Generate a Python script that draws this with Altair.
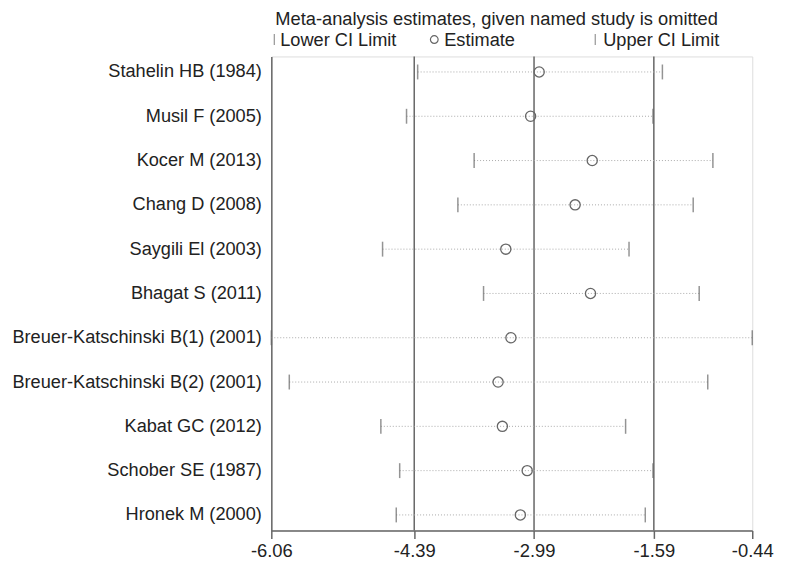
import altair as alt
import pandas as pd

studies = [
    "Stahelin HB (1984)",
    "Musil F (2005)",
    "Kocer M (2013)",
    "Chang D (2008)",
    "Saygili El (2003)",
    "Bhagat S (2011)",
    "Breuer-Katschinski B(1) (2001)",
    "Breuer-Katschinski B(2) (2001)",
    "Kabat GC (2012)",
    "Schober SE (1987)",
    "Hronek M (2000)",
]
estimate = [-2.93, -3.03, -2.31, -2.51, -3.32, -2.33, -3.26, -3.41, -3.36, -3.07, -3.15]
lower = [-4.35, -4.48, -3.69, -3.88, -4.76, -3.58, -6.06, -5.85, -4.78, -4.56, -4.60]
upper = [-1.49, -1.60, -0.90, -1.13, -1.88, -1.06, -0.44, -0.96, -1.92, -1.60, -1.69]

overall = [-4.39, -2.99, -1.59]
tick_values = [-6.06, -4.39, -2.99, -1.59, -0.44]

df = pd.DataFrame({"study": studies, "est": estimate, "lo": lower, "hi": upper})
ref = pd.DataFrame({"v": overall})

FONT = "Liberation Sans"
GRAY = "#666666"
TXT = "#222222"

xscale = alt.Scale(domain=[-6.06, -0.44], nice=False, zero=False)
yscale = alt.Scale(type="point", padding=0.35)

xenc = alt.X(
    "lo:Q",
    scale=xscale,
    axis=alt.Axis(
        values=tick_values,
        labelExpr="replace(format(datum.value, '.2f'), '\u2212', '-')",
        title=None, grid=False,
        domainColor=GRAY, domainWidth=1.5, tickColor=GRAY, tickWidth=1.5,
        tickSize=8, labelPadding=3, labelFontSize=18.5, labelFont=FONT,
        labelColor=TXT, labelFlush=False,
    ),
)
yenc = alt.Y(
    "study:N",
    sort=studies,
    scale=yscale,
    axis=alt.Axis(
        title=None, ticks=False, domainColor=GRAY, domainWidth=1.5,
        labelPadding=10, labelFontSize=18.3, labelFont=FONT, labelColor=TXT,
        labelLimit=400,
    ),
)

base = alt.Chart(df)

ci = base.mark_rule(color="#aaaaaa", strokeDash=[1, 2], strokeWidth=1).encode(
    x=xenc, x2="hi:Q", y=yenc
)
lo_tick = base.mark_tick(color=GRAY, size=15, thickness=1.5).encode(
    x=alt.X("lo:Q", scale=xscale), y=alt.Y("study:N", sort=studies, scale=yscale)
)
hi_tick = base.mark_tick(color=GRAY, size=15, thickness=1.5).encode(
    x=alt.X("hi:Q", scale=xscale), y=alt.Y("study:N", sort=studies, scale=yscale)
)
pts = base.mark_point(shape="circle", filled=False, color=GRAY, size=105, strokeWidth=1.3, opacity=1).encode(
    x=alt.X("est:Q", scale=xscale), y=alt.Y("study:N", sort=studies, scale=yscale)
)
refl = alt.Chart(ref).mark_rule(color=GRAY, strokeWidth=1.5).encode(
    x=alt.X("v:Q", scale=xscale)
)

# header texts (legend)
hdr = pd.DataFrame({"t": ["Meta-analysis estimates, given named study is omitted"]})
title_t = alt.Chart(hdr).mark_text(
    align="left", baseline="alphabetic", font=FONT, fontSize=18.4, color=TXT
).encode(x=alt.value(4), y=alt.value(-32), text="t:N")

leg = pd.DataFrame({"t": ["Lower CI Limit", "Estimate", "Upper CI Limit"], "px": [9, 174, 334]})
leg_t = alt.Chart(leg).mark_text(
    align="left", baseline="alphabetic", font=FONT, fontSize=18.3, color=TXT
).encode(x=alt.X("px:Q", scale=None), y=alt.value(-11), text="t:N")

legsym = pd.DataFrame({"px": [3, 326]})
leg_ticks = alt.Chart(legsym).mark_tick(color=GRAY, size=11, thickness=1.2, orient="vertical").encode(
    x=alt.X("px:Q", scale=None), y=alt.value(-17)
)
legcirc = pd.DataFrame({"px": [164]})
leg_c = alt.Chart(legcirc).mark_point(shape="circle", filled=False, color=GRAY, size=60, strokeWidth=1.2, opacity=1).encode(
    x=alt.X("px:Q", scale=None), y=alt.value(-17)
)

chart = alt.layer(refl, ci, lo_tick, hi_tick, pts, title_t, leg_t, leg_ticks, leg_c).properties(
    width=484,
    height=477,
    autosize=alt.AutoSizeParams(type="none"),
    padding={"left": 265, "top": 47, "right": 40, "bottom": 30},
).configure_view(stroke=None).configure(background="white")

chart.save("out.html", embed_options={"renderer": "svg", "actions": False})
